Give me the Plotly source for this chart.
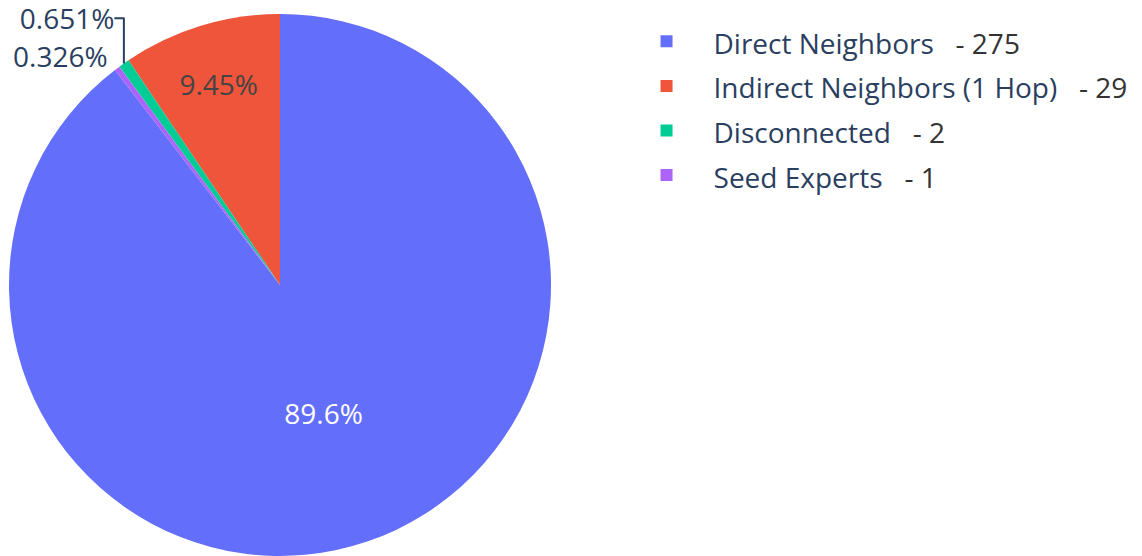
import plotly.graph_objects as go

# Group sizes in the expert network
categories = ["Direct Neighbors", "Indirect Neighbors (1 Hop)", "Disconnected", "Seed Experts"]
counts = [275, 29, 2, 1]
colors = ["#636efa", "#EF553B", "#00cc96", "#ab63fa"]

# Legend entries show the category name followed by its count
legend_labels = [
    f"<span style='font-size:28px'>{name}&nbsp;&nbsp; <span style='color:#333333'>- {n}</span></span>"
    for name, n in zip(categories, counts)
]

fig = go.Figure(
    go.Pie(
        labels=legend_labels,
        values=counts,
        marker=dict(colors=colors),
        textinfo="percent",
        textfont=dict(size=28),
        automargin=False,
        domain=dict(x=[0, 560 / 1142], y=[0, 1]),
        hoverinfo="label+value+percent",
    )
)

fig.update_layout(
    width=1142,
    height=556,
    margin=dict(l=0, r=0, t=14, b=0),
    font=dict(family="Open Sans", size=27, color="#2a3f5f"),
    paper_bgcolor="white",
    plot_bgcolor="white",
    showlegend=True,
    legend=dict(
        x=0.5425,
        y=1.0,
        xanchor="left",
        yanchor="top",
        itemwidth=84,
        font=dict(size=32),
    ),
)

fig.write_html("out.html")
